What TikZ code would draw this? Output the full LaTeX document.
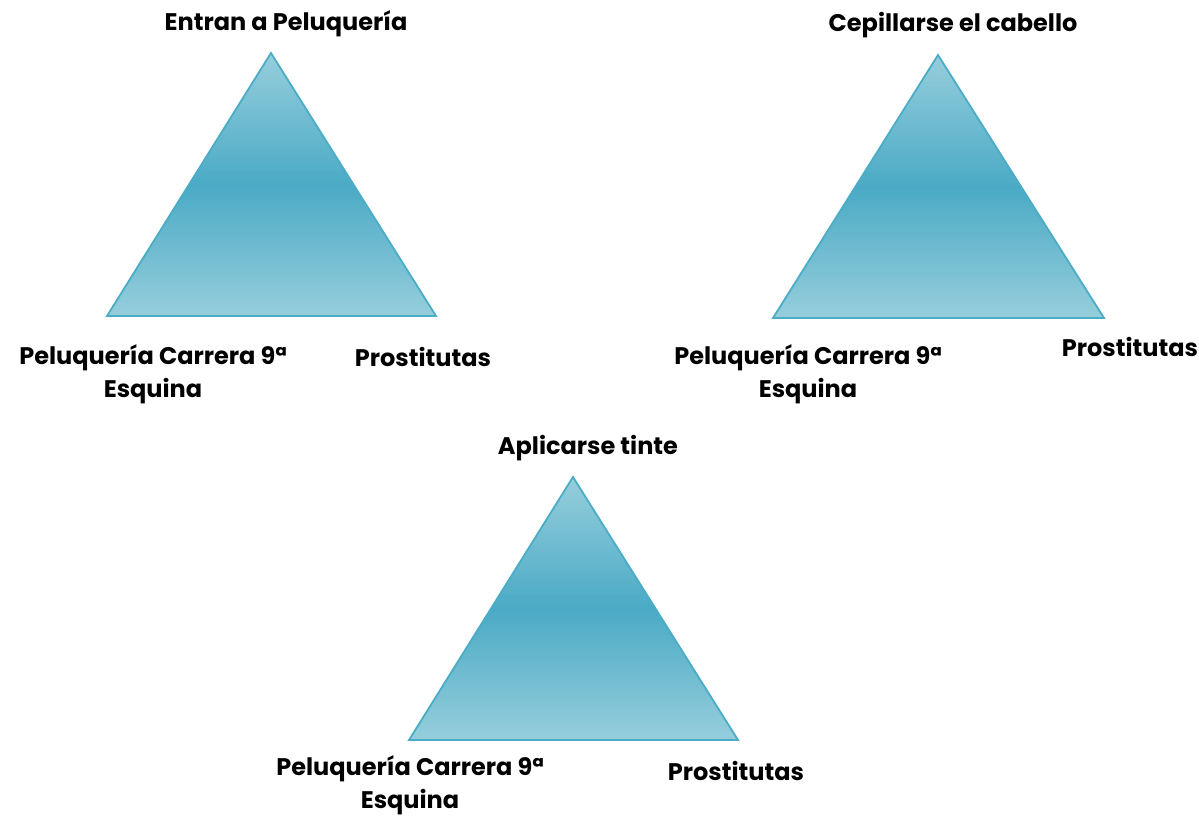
\documentclass[tikz,border=0pt]{standalone}
\usepackage{fontspec}
\setmainfont{Poppins}[UprightFont=* Bold,BoldFont=* Bold]
\definecolor{triedge}{HTML}{4BACC6}
\definecolor{trilight}{HTML}{96CEDC}
\definecolor{tridark}{HTML}{4AAAC5}
\tikzset{
  tri/.style={top color=trilight, bottom color=trilight, middle color=tridark, draw=triedge, line width=1.8pt, line join=miter},
  lbl/.style={font=\fontsize{24}{33}\selectfont, text=black, inner sep=0pt, align=center},
}
\begin{document}
\begin{tikzpicture}[x=1pt,y=-1pt]
\useasboundingbox (0,0) rectangle (1199,817);
% triangle 1
\coordinate (a1) at (271,53);
\coordinate (b1) at (107,316);
\coordinate (c1) at (436,316);
\shade[tri] (a1) -- (b1) -- (c1) -- cycle;
\node[lbl] (t1) at (286,24) {Entran a Peluquería};
\node[lbl] (l1) at (153,374) {Peluquería Carrera 9ª\\Esquina};
\node[lbl] (r1) at (423,357) {Prostitutas};
% triangle 2
\coordinate (a2) at (938,55);
\coordinate (b2) at (773,318);
\coordinate (c2) at (1104,318);
\shade[tri] (a2) -- (b2) -- (c2) -- cycle;
\node[lbl] (t2) at (953,25) {Cepillarse el cabello};
\node[lbl] (l2) at (808,374) {Peluquería Carrera 9ª\\Esquina};
\node[lbl] (r2) at (1130,347) {Prostitutas};
% triangle 3
\coordinate (a3) at (573,477);
\coordinate (b3) at (409,740);
\coordinate (c3) at (738,740);
\shade[tri] (a3) -- (b3) -- (c3) -- cycle;
\node[lbl] (t3) at (588,448) {Aplicarse tinte};
\node[lbl] (l3) at (410,785) {Peluquería Carrera 9ª\\Esquina};
\node[lbl] (r3) at (736,771) {Prostitutas};
\end{tikzpicture}
\end{document}
